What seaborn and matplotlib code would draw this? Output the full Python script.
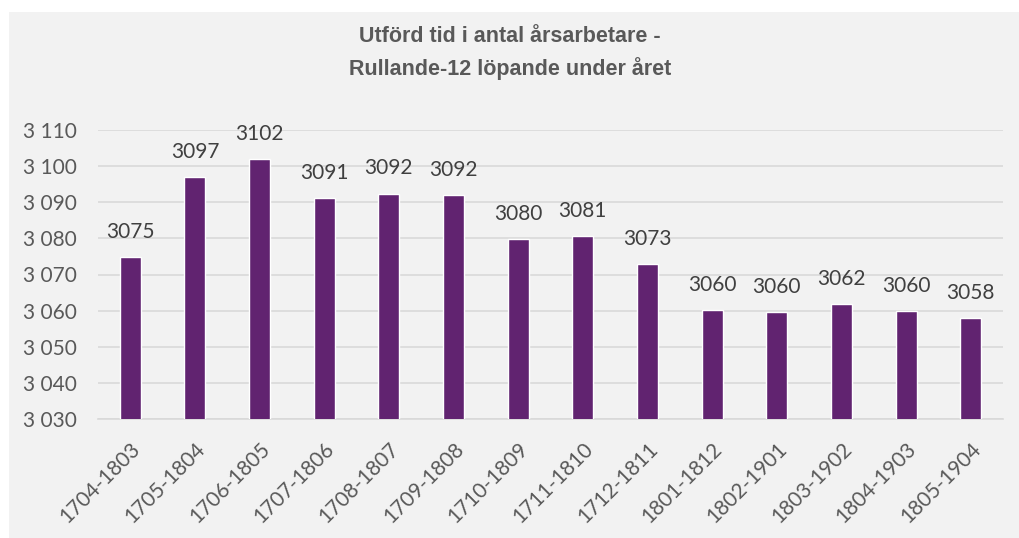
import matplotlib
matplotlib.use("Agg")
import matplotlib.pyplot as plt
import matplotlib.ticker as mticker
from matplotlib.patches import Rectangle
import seaborn as sns
import pandas as pd

# data
periods = ["1704-1803", "1705-1804", "1706-1805", "1707-1806", "1708-1807",
           "1709-1808", "1710-1809", "1711-1810", "1712-1811", "1801-1812",
           "1802-1901", "1803-1902", "1804-1903", "1805-1904"]
values = [3074.9, 3097.0, 3102.0, 3091.2, 3092.4, 3091.9, 3079.8,
          3080.6, 3072.9, 3060.1, 3059.6, 3061.8, 3059.9, 3057.9]
labels = [round(v) for v in values]

sns.set_theme(style="white")
plt.rcParams['font.family'] = ['Lato', 'DejaVu Sans']

bg = "#F2F2F2"
txt = "#595959"
purple = "#612370"

fig = plt.figure(figsize=(10.19, 5.38), dpi=100, facecolor="white")
fig.patches.append(Rectangle((9 / 1019, 0), 1 - 9 / 1019, 526 / 538,
                             transform=fig.transFigure, facecolor=bg,
                             edgecolor="none", zorder=-10))

ax = fig.add_axes([98 / 1019, 1 - 419 / 538, 905 / 1019, 289 / 538])
ax.set_facecolor(bg)

df = pd.DataFrame({"period": periods, "value": values})
sns.barplot(data=df, x="period", y="value", color=purple, width=0.325,
            saturation=1, ax=ax, zorder=3)

ax.set_ylim(3030, 3110)
ax.set_xlim(-0.5, len(periods) - 0.5)
ax.yaxis.set_major_locator(mticker.MultipleLocator(10))
ax.yaxis.set_major_formatter(mticker.FuncFormatter(
    lambda v, p: f"{int(v):,}".replace(",", " ")))
ax.grid(axis="y", color="#D9D9D9", linewidth=1.2, zorder=0)
ax.set_axisbelow(True)
for s in ["top", "right", "left"]:
    ax.spines[s].set_visible(False)
ax.spines["bottom"].set_color("#D9D9D9")
ax.spines["bottom"].set_linewidth(1.2)
ax.set_xlabel("")
ax.set_ylabel("")

ax.tick_params(axis="y", length=0, pad=15, labelsize=15, labelcolor=txt)
ax.tick_params(axis="x", length=0, pad=14, labelsize=15, labelcolor=txt)
for t in ax.get_xticklabels():
    t.set_rotation(45)
    t.set_ha("right")
    t.set_va("top")
    t.set_rotation_mode("anchor")

for i, (v, lab) in enumerate(zip(values, labels)):
    ax.annotate(str(lab), (i, v), xytext=(0, 11), textcoords="offset points",
                ha="center", va="bottom", fontsize=15, color="#404040",
                annotation_clip=False)

fig.text(510 / 1019, 1 - 37 / 538, "Utförd tid i antal årsarbetare -",
         ha="center", va="center", fontsize=15.5, fontweight="bold",
         color=txt, family="Liberation Sans")
fig.text(510 / 1019, 1 - 69 / 538, "Rullande-12 löpande under året",
         ha="center", va="center", fontsize=15.5, fontweight="bold",
         color=txt, family="Liberation Sans")

fig.savefig("out.png", dpi=100, facecolor="white")
